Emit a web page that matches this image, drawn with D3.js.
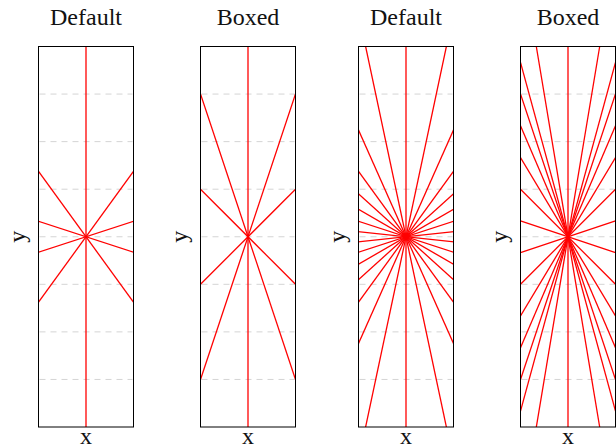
<!DOCTYPE html>
<html><head><meta charset="utf-8">
<script src="https://cdn.jsdelivr.net/npm/d3@7"></script>
<style>body{margin:0;background:#fff}svg{display:block}</style>
</head><body>
<svg id="c" width="616" height="448"></svg>
<script>
// ---- data ----
const titles = ["Default", "Boxed", "Default", "Boxed"];
const xLabel = "x";
const yLabel = "y";
const xDomain = [-1, 1];
const yDomain = [-4, 4];
const gridY = [-3, -2, -1, 0, 1, 2, 3];
// Default panels: line directions (degrees) through the centre
const defaultAngles5 = [18, 54, 90, 126, 162];
const defaultAngles15 = [6, 18, 30, 42, 54, 66, 78, 90, 102, 114, 126, 138, 150, 162, 174];
// Boxed panels: one end point on the box for each line through the centre
const boxed5 = [[0, 4], [1, 3], [1, 1], [1, -1], [1, -3]];
const boxed15 = [[0, 4], [0.667, 4], [1, 3.667], [1, 3], [1, 2.333], [1, 1.667], [1, 1],
  [1, 0.333], [1, -0.333], [1, -1], [1, -1.667], [1, -2.333], [1, -3], [1, -3.667], [0.667, -4]];

// ---- layout ----
const svg = d3.select("#c");
const panelLefts = [38.5, 200.5, 358.5, 520.5];
const pw = 95, pTop = 46.5, pBottom = 427;
const font = "'Liberation Serif', 'DejaVu Serif', serif";

function segsFromAngles(angles) {
  return angles.map(a => {
    const r = a * Math.PI / 180, L = 10;
    return [[-L * Math.cos(r), -L * Math.sin(r)], [L * Math.cos(r), L * Math.sin(r)]];
  });
}
function segsFromPoints(pts) {
  return pts.map(p => [[-p[0], -p[1]], [p[0], p[1]]]);
}
const panelSegs = [segsFromAngles(defaultAngles5), segsFromPoints(boxed5),
  segsFromAngles(defaultAngles15), segsFromPoints(boxed15)];

panelLefts.forEach((L, i) => {
  const x = d3.scaleLinear().domain(xDomain).range([L, L + pw]);
  const y = d3.scaleLinear().domain(yDomain).range([pBottom, pTop]);
  const g = svg.append("g");
  const cid = "clip" + i;
  svg.append("clipPath").attr("id", cid).append("rect")
    .attr("x", L).attr("y", pTop).attr("width", pw).attr("height", pBottom - pTop);

  // grid
  g.selectAll("line.grid").data(gridY).join("line")
    .attr("x1", L + 1).attr("x2", L + pw - 1)
    .attr("y1", d => y(d)).attr("y2", d => y(d))
    .attr("stroke", "#d4d4d4").attr("stroke-width", 1)
    .attr("stroke-dasharray", "6,5");

  // lines
  const lg = g.append("g").attr("clip-path", `url(#${cid})`);
  lg.selectAll("line").data(panelSegs[i]).join("line")
    .attr("x1", d => x(d[0][0])).attr("y1", d => y(d[0][1]))
    .attr("x2", d => x(d[1][0])).attr("y2", d => y(d[1][1]))
    .attr("stroke", "#ff0000").attr("stroke-width", 1.3);

  // frame
  g.append("rect").attr("x", L).attr("y", pTop).attr("width", pw).attr("height", pBottom - pTop)
    .attr("fill", "none").attr("stroke", "#000").attr("stroke-width", 1);

  // title
  g.append("text").attr("x", L + pw / 2).attr("y", 25)
    .attr("text-anchor", "middle").attr("font-family", font).attr("font-size", 24)
    .attr("fill", "#111").text(titles[i]);
  // x label
  g.append("text").attr("x", L + pw / 2).attr("y", 444)
    .attr("text-anchor", "middle").attr("font-family", font).attr("font-size", 24)
    .attr("fill", "#111").text(xLabel);
  // y label
  g.append("text").attr("transform", `translate(${L - 14},${(pTop + pBottom) / 2}) rotate(-90)`)
    .attr("text-anchor", "middle").attr("font-family", font).attr("font-size", 24)
    .attr("fill", "#111").text(yLabel);
});
</script>
</body></html>
